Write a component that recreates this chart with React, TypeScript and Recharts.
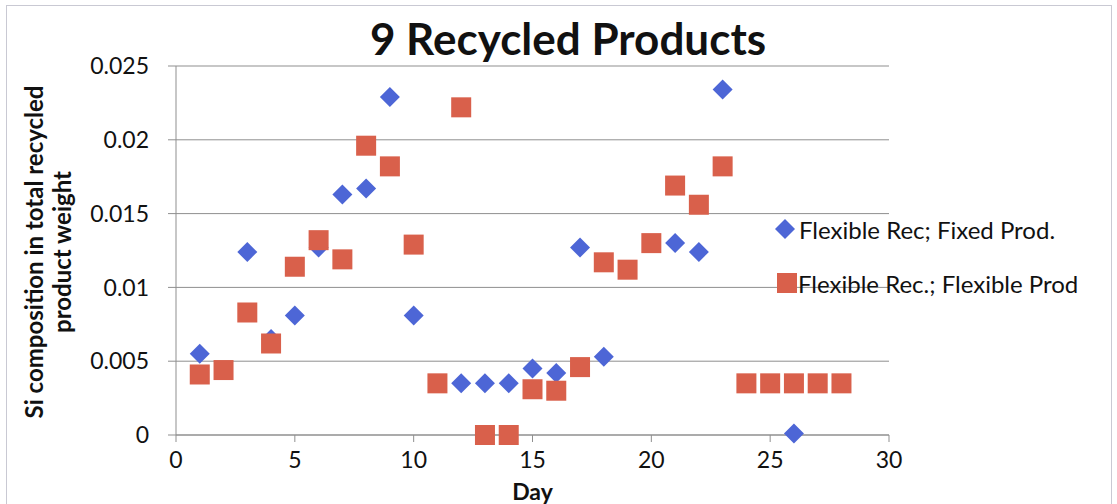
import { CartesianGrid, Label, Scatter, ScatterChart, XAxis, YAxis } from "recharts";

const fixedDays = [1, 3, 4, 5, 6, 7, 8, 9, 10, 12, 13, 14, 15, 16, 17, 18, 21, 22, 23, 26];
const fixedValues = [
  0.0055, 0.0124, 0.0065, 0.0081, 0.0127, 0.0163, 0.0167, 0.0229, 0.0081, 0.0035, 0.0035,
  0.0035, 0.0045, 0.0042, 0.0127, 0.0053, 0.013, 0.0124, 0.0234, 0.0001,
];

const flexDays = [
  1, 2, 3, 4, 5, 6, 7, 8, 9, 10, 11, 12, 13, 14, 15, 16, 17, 18, 19, 20, 21, 22, 23, 24, 25, 26, 27, 28,
];
const flexValues = [
  0.0041, 0.0044, 0.0083, 0.0062, 0.0114, 0.0132, 0.0119, 0.0196, 0.0182, 0.0129, 0.0035, 0.0222,
  0, 0, 0.0031, 0.003, 0.0046, 0.0117, 0.0112, 0.013, 0.0169, 0.0156, 0.0182, 0.0035, 0.0035, 0.0035,
  0.0035, 0.0035,
];

const xTicks = [0, 5, 10, 15, 20, 25, 30];
const yTicks = [0, 0.005, 0.01, 0.015, 0.02, 0.025];

const seriesNames = ["Flexible Rec; Fixed Prod.", "Flexible Rec.; Flexible Prod"];

const BLUE = "#4d66d6";
const RED = "#d9604b";
const FONT = "Lato, 'Open Sans', sans-serif";

const fixedData = fixedDays.map((d, i) => ({ day: d, v: fixedValues[i] }));
const flexData = flexDays.map((d, i) => ({ day: d, v: flexValues[i] }));

function Diamond(props: any) {
  const { cx, cy } = props;
  const r = 10;
  return (
    <polygon
      points={`${cx},${cy - r} ${cx + r},${cy} ${cx},${cy + r} ${cx - r},${cy}`}
      fill={BLUE}
    />
  );
}

function Square(props: any) {
  const { cx, cy } = props;
  const s = 20;
  return <rect x={cx - s / 2} y={cy - s / 2} width={s} height={s} fill={RED} />;
}

function LegendBox() {
  return (
    <div
      style={{
        position: "absolute",
        left: 774,
        top: 213,
        fontFamily: FONT,
        fontSize: 24,
        color: "#111",
        whiteSpace: "nowrap",
      }}
    >
      <div style={{ display: "flex", alignItems: "center", height: 32 }}>
        <svg width={22} height={22} style={{ marginRight: 3 }}>
          <polygon points="11,1 21,11 11,21 1,11" fill={BLUE} />
        </svg>
        <span>{seriesNames[0]}</span>
      </div>
      <div style={{ display: "flex", alignItems: "center", height: 32, marginTop: 22 }}>
        <svg width={24} height={22}>
          <rect x={3} y={1} width={20} height={20} fill={RED} />
        </svg>
        <span>{seriesNames[1]}</span>
      </div>
    </div>
  );
}

export default function App() {
  return (
    <div
      style={{
        position: "absolute",
        left: 0,
        top: 0,
        width: 1117,
        height: 504,
        background: "#fff",
        overflow: "hidden",
      }}
    >
      <div
        style={{
          position: "absolute",
          left: 6,
          top: 5,
          width: 1104,
          height: 520,
          border: "1px solid #c9c9d3",
        }}
      />
      <div
        style={{
          position: "absolute",
          left: 0,
          top: 10,
          width: 1136,
          textAlign: "center",
          fontFamily: FONT,
          fontWeight: "bold",
          fontSize: 44,
          lineHeight: "56px",
          color: "#111",
        }}
      >
        9 Recycled Products
      </div>
      <svg
        width={120}
        height={504}
        style={{ position: "absolute", left: 0, top: 0, overflow: "visible" }}
      >
        <text
          transform="translate(43, 252) rotate(-90)"
          textAnchor="middle"
          fontFamily={FONT}
          fontSize={24}
          fontWeight="bold"
          fill="#111"
        >
          Si composition in total recycled
        </text>
        <text
          transform="translate(71, 252) rotate(-90)"
          textAnchor="middle"
          fontFamily={FONT}
          fontSize={24}
          fontWeight="bold"
          fill="#111"
        >
          product weight
        </text>
      </svg>
      <div style={{ position: "absolute", left: 0, top: 0 }}>
        <ScatterChart
          width={1117}
          height={504}
          margin={{ top: 66, right: 228, bottom: 0, left: 96 }}
          style={{ fontFamily: FONT }}
        >
          <CartesianGrid vertical={false} stroke="#8f8f8f" strokeWidth={1} />
          <XAxis
            type="number"
            dataKey="day"
            domain={[0, 30]}
            ticks={xTicks}
            stroke="#8f8f8f"
            tickSize={7}
            tick={{ fontSize: 23, fill: "#111" }}
            tickMargin={10}
            height={69}
          >
            <Label
              value="Day"
              position="insideBottom"
              offset={4}
              style={{ fontSize: 23, fontWeight: "bold", fill: "#111" }}
            />
          </XAxis>
          <YAxis
            type="number"
            dataKey="v"
            domain={[0, 0.025]}
            ticks={yTicks}
            stroke="#8f8f8f"
            tickSize={8}
            tick={{ fontSize: 23, fill: "#111" }}
            tickMargin={19}
            width={80}
          />
          <Scatter
            name={seriesNames[0]}
            data={fixedData}
            shape={Diamond}
            isAnimationActive={false}
          />
          <Scatter
            name={seriesNames[1]}
            data={flexData}
            shape={Square}
            isAnimationActive={false}
          />
        </ScatterChart>
      </div>
      <LegendBox />
    </div>
  );
}
